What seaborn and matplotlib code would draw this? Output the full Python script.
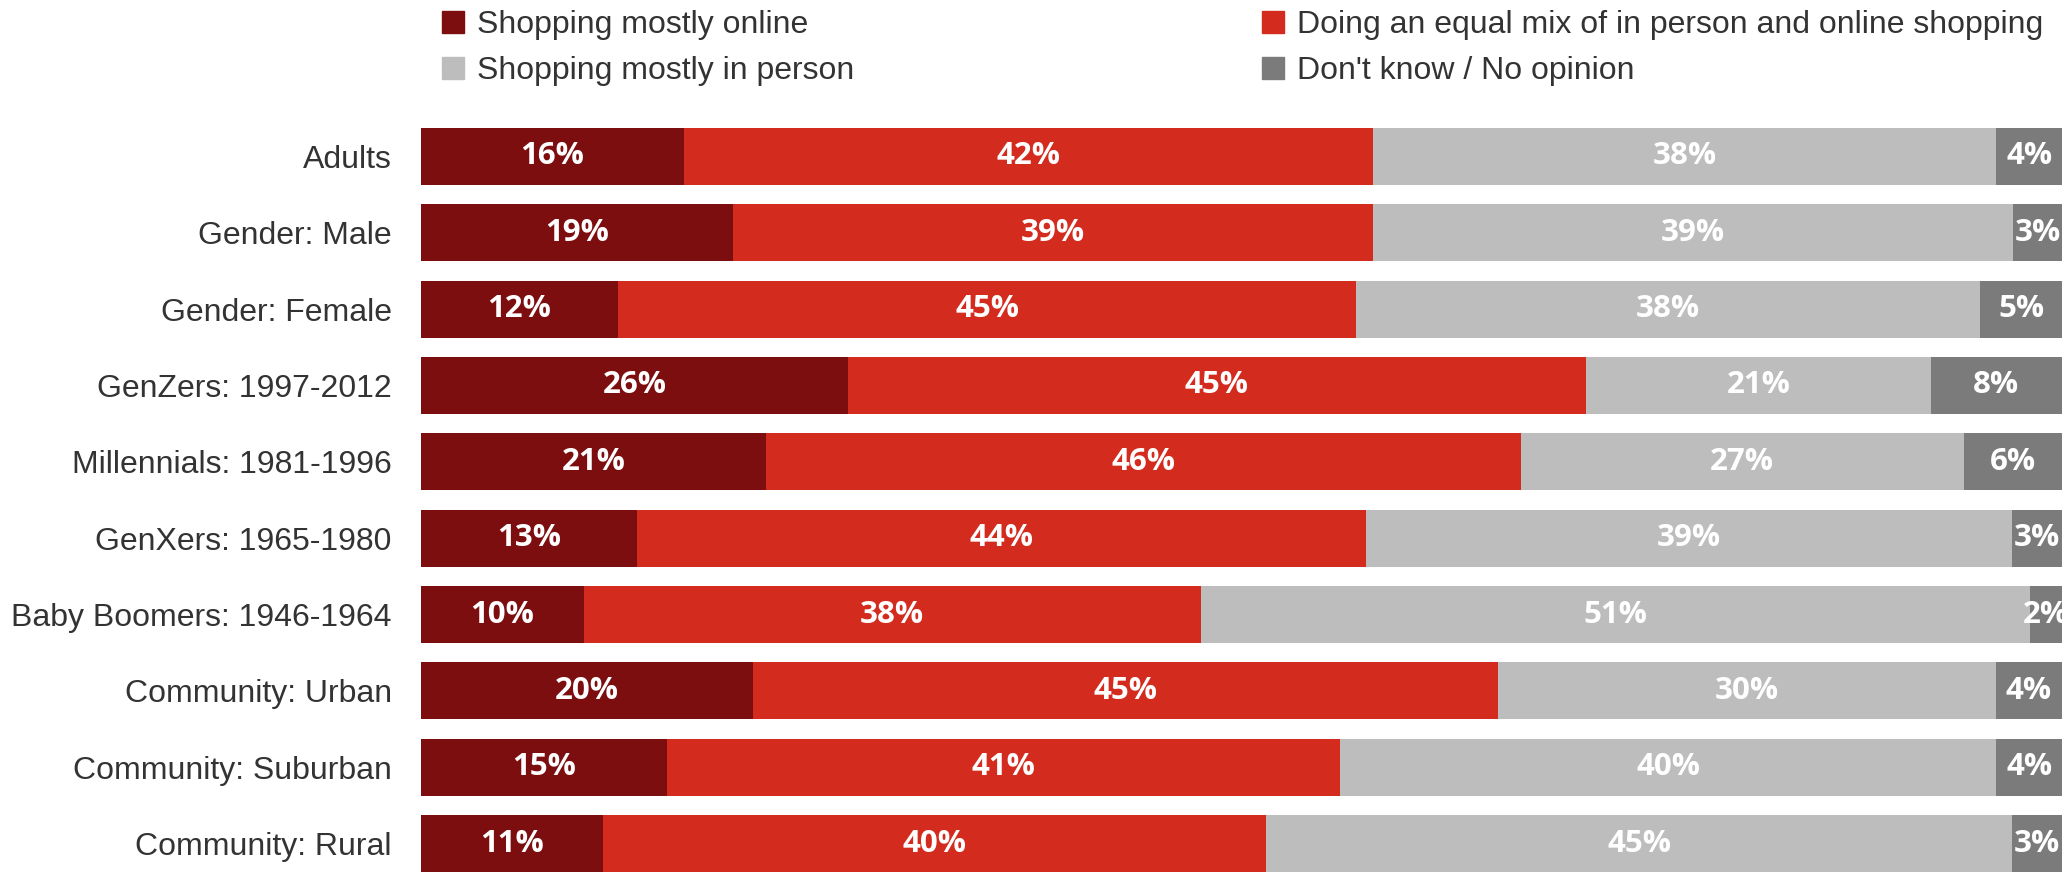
import matplotlib
matplotlib.use('Agg')
import matplotlib.pyplot as plt
import matplotlib.patches as mpatches
import seaborn as sns
import pandas as pd
import numpy as np

# Survey groups, top to bottom
groups = ['Adults', 'Gender: Male', 'Gender: Female', 'GenZers: 1997-2012',
          'Millennials: 1981-1996', 'GenXers: 1965-1980', 'Baby Boomers: 1946-1964',
          'Community: Urban', 'Community: Suburban', 'Community: Rural']

# Response shares (%), as printed on the bars
online = [16, 19, 12, 26, 21, 13, 10, 20, 15, 11]
mix = [42, 39, 45, 45, 46, 44, 38, 45, 41, 40]
in_person = [38, 39, 38, 21, 27, 39, 51, 30, 40, 45]
dont_know = [4, 3, 5, 8, 6, 3, 2, 4, 4, 3]

series_names = ['Shopping mostly online',
                'Doing an equal mix of in person and online shopping',
                'Shopping mostly in person',
                "Don't know / No opinion"]
colors = ['#7d0e10', '#d42b1f', '#bdbdbd', '#7b7b7b']

sns.set_style('white')
plt.rcParams['font.family'] = ['Liberation Sans', 'DejaVu Sans']

df = pd.DataFrame({'group': groups, 'online': online, 'mix': mix,
                   'in_person': in_person, 'dont_know': dont_know})
cols = ['online', 'mix', 'in_person', 'dont_know']
# rows don't always add to exactly 100, scale each bar to full width
totals = df[cols].sum(axis=1)
shares = df[cols].div(totals, axis=0) * 100
cum = shares.cumsum(axis=1)

fig = plt.figure(figsize=(20.72, 8.73), dpi=100)
ax = fig.add_axes([0.2032, 0.0011, 0.7920, 0.8523])

# draw stacked bars by overlaying cumulative totals, widest first
for col, color in zip(cols[::-1], colors[::-1]):
    sns.barplot(x=cum[col].values, y=df['group'], color=color, orient='h',
                width=0.745, ax=ax, linewidth=0, saturation=1)

# segment labels
for i in range(len(groups)):
    start = 0
    for col in cols:
        w = shares.loc[i, col]
        ax.text(start + w / 2, i, f"{df.loc[i, col]}%", ha='center', va='center',
                color='white', fontsize=22.5, fontweight='bold',
                family=['Open Sans', 'DejaVu Sans'], clip_on=False)
        start += w

ax.set_xlim(0, 100)
ax.set_ylim(len(groups) - 1 + 0.3725, -0.3725)
ax.set_xlabel('')
ax.set_ylabel('')
ax.set_xticks([])
ax.tick_params(axis='y', length=0, pad=21, labelsize=23, labelcolor='#333333')
sns.despine(ax=ax, left=True, bottom=True)

handles = [mpatches.Patch(color=c) for c in colors]
# column-wise fill: online, in person | mix, don't know
order = [0, 2, 1, 3]
fig.legend([handles[k] for k in order], [series_names[k] for k in order],
           ncol=2, loc='upper left', bbox_to_anchor=(0.1995, 1.021),
           frameon=False, fontsize=23, handlelength=0.7, handleheight=0.7,
           handletextpad=0.4, columnspacing=12.75, labelspacing=0.5,
           labelcolor='#333333')

fig.savefig('out.png', dpi=100)
